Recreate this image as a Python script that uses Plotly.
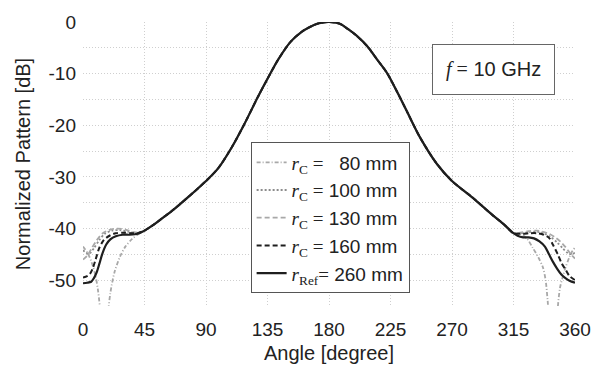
import numpy as np
import plotly.graph_objects as go

# ---------------- data ----------------
# shared main-lobe part, 45..315 deg (all five curves coincide here)
main_angle = [45, 52, 58, 64, 70, 80, 90, 99, 109, 118, 128, 135, 143, 152, 160, 165, 172, 180,
              188, 193.5, 200, 208, 215, 222.5, 230, 237, 246.5, 258.7, 270, 285, 299.7, 308, 315]
main_db = [-40.4, -39.2, -38.0, -36.8, -35.5, -33.2, -30.8, -28.3, -24.2, -19.8, -14.5, -11.0, -7.2, -3.8,
           -1.9, -1.1, -0.3, 0.0,
           -0.35, -1.3, -2.6, -4.7, -7.2, -9.9, -13.6, -17.3, -22.3, -27.4, -30.8, -34.0, -37.4, -39.2, -40.9]

# edge regions (0..45 and 315..360) per series
left_80_a = [0, 3, 6, 9, 11, 13, 15, 17, 18.5, 20, 23, 27, 31, 36, 41]
left_80_v = [-43.5, -44.6, -46.3, -49.0, -52.0, -57.0, -64.0, -62.0, -56.0, -52.5, -48.5, -45.5, -43.5, -42.0, -41.0]
right_80_a = [320, 325, 329, 333, 336.5, 338.5, 340, 343, 345.5, 347.5, 349, 351, 353, 355.8, 358, 360]
right_80_v = [-41.0, -42.0, -43.7, -45.5, -47.5, -50.0, -54.0, -64.0, -62.0, -55.0, -51.5, -49.4, -47.6, -45.6, -44.4, -43.7]

left_100_a = [0, 3, 5, 8, 12, 16, 21, 27, 33, 39]
left_100_v = [-44.2, -44.8, -44.8, -43.8, -42.2, -41.0, -40.4, -40.3, -40.6, -40.9]
right_100_a = [320, 326, 332, 337, 342, 347, 351, 355, 358, 360]
right_100_v = [-40.9, -40.7, -40.6, -40.9, -41.6, -42.7, -43.8, -44.8, -45.0, -44.6]

left_130_a = [0, 3, 6, 10, 14, 19, 25, 31, 37, 41]
left_130_v = [-46.0, -45.3, -44.0, -42.3, -41.0, -40.3, -40.0, -40.2, -40.7, -40.8]
right_130_a = [320, 326, 332, 336, 341, 346, 350, 353.4, 357, 360]
right_130_v = [-40.8, -40.5, -40.4, -40.6, -41.0, -41.8, -42.7, -43.7, -45.0, -45.8]

left_160_a = [0, 3, 5, 7, 9, 12, 15, 17, 20, 24, 30, 36, 40]
left_160_v = [-49.5, -49.2, -48.8, -47.8, -46.2, -43.7, -42.3, -41.8, -41.3, -40.9, -40.8, -40.9, -40.9]
right_160_a = [322, 327, 332, 337, 341, 344, 347.4, 350, 353.4, 356, 360]
right_160_v = [-41.0, -40.9, -40.9, -41.2, -41.8, -43.2, -45.0, -46.6, -48.1, -49.2, -50.0]

left_260_a = [0, 3, 6, 8, 10, 12, 14, 17, 20, 24, 29, 34, 38, 42]
left_260_v = [-50.6, -50.5, -50.3, -49.6, -48.5, -46.8, -45.0, -43.1, -42.1, -41.5, -41.2, -41.2, -41.1, -40.8]
right_260_a = [318, 322, 326, 330, 334, 338, 341, 344, 347, 350, 353, 356, 360]
right_260_v = [-41.4, -41.7, -41.7, -41.9, -42.5, -43.5, -45.0, -46.5, -47.8, -48.9, -49.6, -50.1, -50.5]

series_names = ["80", "100", "130", "160", "260"]
x_ticks = [0, 45, 90, 135, 180, 225, 270, 315, 360]
y_ticks = [0, -10, -20, -30, -40, -50]
y_tick_text = ["0", "-10", "-20", "-30", "-40", "-50"]

# ---------------- figure ----------------
SANS = "Liberation Sans, Arial, sans-serif"
SERIF = "Liberation Serif, DejaVu Serif, serif"

def r_label(sub, value):
    return (f"<span style='font-family:{SERIF}'><i>r</i><sub>{sub}</sub> =</span> {value} mm")

edges = {
    "80": (left_80_a, left_80_v, right_80_a, right_80_v),
    "100": (left_100_a, left_100_v, right_100_a, right_100_v),
    "130": (left_130_a, left_130_v, right_130_a, right_130_v),
    "160": (left_160_a, left_160_v, right_160_a, right_160_v),
    "260": (left_260_a, left_260_v, right_260_a, right_260_v),
}
styles = {
    "80": dict(color="#a8a8a8", width=1.8, dash="4px,2px,1px,2px"),
    "100": dict(color="#8c8c8c", width=1.8, dash="2px,2px"),
    "130": dict(color="#a8a8a8", width=1.8, dash="5px,3px"),
    "160": dict(color="#1e1e1e", width=2.0, dash="5px,3px"),
    "260": dict(color="#1e1e1e", width=2.2, dash="solid"),
}
labels = {
    "80": r_label("C", "&nbsp;&nbsp;80"),
    "100": r_label("C", "100"),
    "130": r_label("C", "130"),
    "160": r_label("C", "160"),
    "260": f"<span style='font-family:{SERIF}'><i>r</i><sub>Ref</sub>=</span> 260 mm",
}

fig = go.Figure()
for name in series_names:
    la, lv, ra, rv = edges[name]
    ang = list(la) + main_angle + list(ra)
    val = list(lv) + main_db + list(rv)
    fig.add_trace(go.Scatter(
        x=ang, y=val, mode="lines", name=labels[name],
        line=dict(shape="spline", smoothing=0.8, **styles[name]),
    ))

fig.add_annotation(
    x=0.835, y=0.833, xref="paper", yref="paper", xanchor="center", yanchor="middle",
    text=f"<span style='font-family:{SERIF}'><i>f</i> =</span> 10 GHz",
    showarrow=False, font=dict(family=SANS, size=20, color="#222"),
    bordercolor="#666", borderwidth=1, borderpad=13, bgcolor="white",
)

grid = dict(showgrid=True, gridcolor="#cfcfcf", griddash="1px,2px", gridwidth=1)
fig.update_layout(
    width=603, height=372,
    margin=dict(l=83, r=24, t=19, b=63),
    paper_bgcolor="white", plot_bgcolor="white",
    font=dict(family=SANS, size=19, color="#222"),
    showlegend=True,
    legend=dict(x=0.3407, y=0.5759, xanchor="left", yanchor="top",
                bgcolor="white", bordercolor="#555", borderwidth=1,
                font=dict(family=SANS, size=19, color="#222"),
                tracegroupgap=0, itemwidth=30),
    xaxis=dict(range=[0, 360], tickvals=x_ticks, zeroline=False,
               showline=False, ticks="", ticklabelstandoff=10,
               title=dict(text="Angle [degree]", font=dict(size=20), standoff=6),
               **grid),
    yaxis=dict(range=[-55, 0], tickvals=y_ticks, ticktext=y_tick_text, zeroline=False,
               showline=False, ticks="", ticklabelstandoff=6,
               minor=dict(dtick=5, tick0=0, showgrid=True, gridcolor="#cfcfcf", griddash="1px,2px"),
               title=dict(text="Normalized Pattern [dB]", font=dict(size=20), standoff=12),
               **grid),
)

fig.write_html("out.html")
